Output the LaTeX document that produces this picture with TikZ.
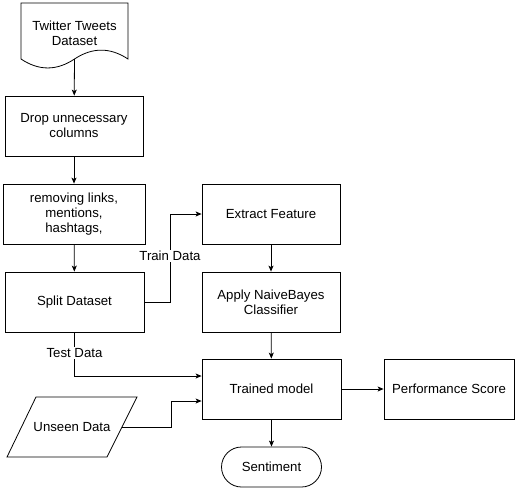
\documentclass[tikz,border=0pt]{standalone}
\usepackage{fontspec}
\setmainfont{Liberation Sans}
\usetikzlibrary{arrows.meta}
\begin{document}
\begin{tikzpicture}[x=1pt,y=-1pt,
  every node/.style={font=\fontsize{13.2}{15}\selectfont, align=center, inner sep=0pt},
  box/.style={draw, line width=0.8pt, minimum width=138pt, minimum height=60pt},
  lbl/.style={fill=white, inner sep=1pt},
  conn/.style={draw, line width=0.8pt, -{Stealth[length=6pt,width=5pt,inset=1.5pt]}},
  shapeline/.style={line width=0.8pt}]
\useasboundingbox (0,0) rectangle (519,490);
% document shape
\draw[shapeline] (21,3) -- (128,3) -- (128,59)
  .. controls (110.17,47.2) and (92.33,47.2) .. (74.5,59)
  .. controls (56.67,70.93) and (38.83,70.93) .. (21,59) -- cycle;
\node (doc) at (74.5,33) {Twitter Tweets\\Dataset};
\coordinate (docb) at (74.5,59);
\node[box] (drop) at (74,126) {Drop unnecessary\\columns};
\node[box, minimum width=142pt] (clean) at (74,214) {removing links,\\mentions,\\hashtags,};
\node[box, minimum width=139pt] (split) at (74.5,302) {Split Dataset};
\node[box] (feat) at (271,214) {Extract Feature};
\node[box] (nb) at (271,302) {Apply NaiveBayes\\Classifier};
\node[box, minimum width=139pt] (model) at (271.5,389) {Trained model};
\node[box, minimum width=130pt] (perf) at (449,389) {Performance Score};
% parallelogram
\draw[shapeline] (7,457) -- (36,397) -- (137,397) -- (107,457) -- cycle;
\node (unseen) at (72,427) {Unseen Data};
\coordinate (unr) at (122,427);
\node[draw, line width=0.8pt, rounded corners=20pt, minimum width=100pt, minimum height=40pt] (sent) at (271.5,467) {Sentiment};
\coordinate (tr1) at (170,302);
\coordinate (tr2) at (170,214);
\coordinate (te1) at (74.5,376);
\coordinate (un1) at (171,427);
\coordinate (un2) at (171,401);
\draw[conn] (docb) -- (drop);
\draw[conn] (drop) -- (clean);
\draw[conn] (clean) -- (split);
\draw[conn] (split.east) -- (tr1) -- (tr2) -- (tr2 -| feat.west);
\node[lbl] (trl) at (170,256) {Train Data};
\draw[conn] (feat) -- (nb);
\draw[conn] (nb) -- (model);
\draw[conn] (split.south) -- (te1) -- (te1 -| model.west);
\node[lbl] (tel) at (74.5,353) {Test Data};
\draw[conn] (unr) -- (un1) -- (un2) -- (un2 -| model.west);
\draw[conn] (model) -- (perf);
\draw[conn] (model) -- (sent);
\end{tikzpicture}
\end{document}
